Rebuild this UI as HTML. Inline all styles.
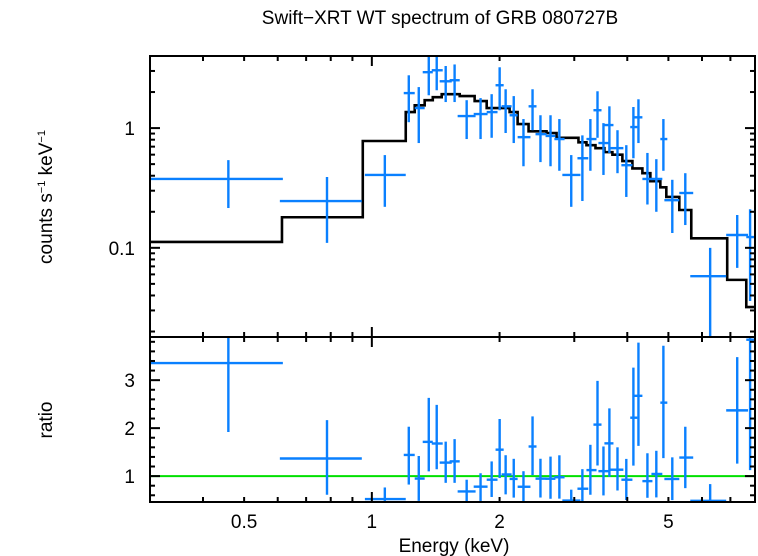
<!DOCTYPE html>
<html><head><meta charset="utf-8"><style>
html,body{margin:0;padding:0;background:#fff;}
svg{display:block;font-family:"Liberation Sans",sans-serif;}
</style></head><body>
<svg id="chart" width="758" height="556" viewBox="0 0 758 556" xmlns="http://www.w3.org/2000/svg">
<text x="440" y="24" font-size="19" text-anchor="middle">Swift−XRT WT spectrum of GRB 080727B</text>
<text transform="translate(52,197) rotate(-90)" font-size="19" text-anchor="middle">counts s<tspan font-size="11" dy="-7">−1</tspan><tspan dy="7"> keV</tspan><tspan font-size="11" dy="-7">−1</tspan></text>
<text transform="translate(52,420) rotate(-90)" font-size="19" text-anchor="middle">ratio</text>
<text x="454" y="552" font-size="19" text-anchor="middle">Energy (keV)</text>
<g id="top"></g>
<g id="bot"></g>
</svg>
<script>
const eLo=[0.300,0.607,0.963,1.189,1.262,1.318,1.384,1.445,1.525,1.593,1.738,1.865,1.957,2.022,2.112,2.206,2.341,2.431,2.567,2.693,2.812,3.052,3.205,3.329,3.42,3.533,3.630,3.874,4.065,4.156,4.342,4.560,4.786,4.892,5.305,5.630,6.842,7.63];
const eMid=[0.459,0.784,1.073,1.222,1.290,1.362,1.422,1.493,1.567,1.673,1.804,1.916,2.001,2.067,2.160,2.277,2.392,2.497,2.637,2.767,2.951,3.135,3.274,3.403,3.515,3.630,3.793,3.979,4.135,4.250,4.462,4.683,4.866,5.107,5.480,6.272,7.264,7.79];
const eHi=[0.617,0.947,1.202,1.262,1.332,1.392,1.469,1.543,1.611,1.756,1.874,1.978,2.045,2.135,2.206,2.365,2.444,2.581,2.708,2.846,3.102,3.237,3.385,3.478,3.63,3.711,3.916,4.113,4.226,4.342,4.585,4.838,4.971,5.305,5.721,6.842,7.705,8.0];
const rate=[0.376,0.246,0.406,1.96,1.47,2.93,3.04,2.46,2.51,1.26,1.31,1.36,2.28,1.52,1.28,0.84,1.52,0.89,0.86,0.81,0.406,0.56,0.81,1.41,0.75,1.06,0.68,0.49,1.02,1.23,0.376,0.376,0.81,0.25,0.287,0.058,0.128,0.123];
const rateLo=[0.215,0.11,0.22,1.12,0.75,1.88,2.07,1.65,1.65,0.81,0.81,0.83,1.41,0.91,0.75,0.48,0.96,0.52,0.48,0.44,0.22,0.246,0.44,0.83,0.406,0.62,0.42,0.266,0.56,0.75,0.23,0.2,0.44,0.133,0.155,0.005,0.068,0.036];
const rateHi=[0.54,0.39,0.595,2.76,2.2,4.5,4.5,3.3,3.4,1.71,1.78,1.92,3.22,2.11,1.85,1.19,2.11,1.28,1.28,1.19,0.595,0.87,1.19,2.03,1.1,1.52,0.96,0.72,1.5,1.74,0.62,0.55,1.19,0.37,0.42,0.1,0.188,0.21];
const modelEdges=[0.300,0.614,0.952,1.202,1.262,1.332,1.392,1.461,1.611,1.747,1.865,2.001,2.112,2.206,2.341,2.581,2.725,2.846,3.069,3.205,3.366,3.533,3.690,3.895,4.113,4.342,4.534,4.786,4.944,5.305,5.661,6.88,7.63,8.0];
const modelVals=[0.112,0.18,0.78,1.36,1.55,1.71,1.81,1.92,1.85,1.68,1.47,1.47,1.36,1.08,0.94,0.91,0.83,0.83,0.76,0.72,0.68,0.63,0.6,0.53,0.46,0.42,0.36,0.32,0.266,0.207,0.12,0.054,0.032];
const xTickLabels=["0.5","1","2","5"];
const xTickVals=[0.5,1,2,5];
const yTickLabelsTop=["0.1","1"];
const yTickValsTop=[0.1,1];
const yTickLabelsBot=["1","2","3"];
const yTickValsBot=[1,2,3];

const NS="http://www.w3.org/2000/svg";
const L=150,R=755,T1=56,B1=337,T2=337,B2=502;
const xMin=0.3,xMax=8.0;
const x=e=>L+(Math.log10(e)-Math.log10(xMin))/(Math.log10(xMax)-Math.log10(xMin))*(R-L);
const yTopMin=0.018,yTopMax=4.0;
const yT=v=>B1-(Math.log10(v)-Math.log10(yTopMin))/(Math.log10(yTopMax)-Math.log10(yTopMin))*(B1-T1);
const rMin=0.46,rMax=3.9;
const yB=r=>B2-(r-rMin)/(rMax-rMin)*(B2-T2);
const svg=document.getElementById('chart');
const gT=document.getElementById('top'),gB=document.getElementById('bot');
function mk(tag,attrs,parent){const el=document.createElementNS(NS,tag);for(const k in attrs)el.setAttribute(k,attrs[k]);(parent||svg).appendChild(el);return el;}

const defs=mk('defs',{});
const c1=mk('clipPath',{id:'c1'},defs);mk('rect',{x:L,y:T1,width:R-L,height:B1-T1},c1);
const c2=mk('clipPath',{id:'c2'},defs);mk('rect',{x:L,y:T2,width:R-L,height:B2-T2},c2);
const dT=mk('g',{'clip-path':'url(#c1)'},gT);
const dB=mk('g',{'clip-path':'url(#c2)'},gB);

function modelAt(e){for(let i=0;i<modelVals.length;i++){if(e>=modelEdges[i]&&e<modelEdges[i+1])return modelVals[i];}return modelVals[modelVals.length-1];}

let d='';
for(let i=0;i<modelVals.length;i++){
  const yy=yT(modelVals[i]);
  d+=(i===0?'M':'L')+x(modelEdges[i])+','+yy+'L'+x(modelEdges[i+1])+','+yy;
}
const mp=mk('path',{d:d,fill:'none',stroke:'#000','stroke-width':2.6},dT);



const rl=mk('line',{x1:L,x2:R,y1:yB(1),y2:yB(1),stroke:'#00e000','stroke-width':2},dB);



const BLUE='#0a80ff';
for(let i=0;i<rate.length;i++){
  const g=mk('g',{stroke:BLUE,'stroke-width':2.4},dT);
  
  
  const cx=x(eMid[i]),cy=yT(rate[i]);
  mk('line',{x1:x(eLo[i]),x2:x(eHi[i]),y1:cy,y2:cy},g);
  mk('line',{x1:cx,x2:cx,y1:yT(rateHi[i]),y2:yT(rateLo[i])},g);
  const m=modelAt(eMid[i]);
  const g2=mk('g',{stroke:BLUE,'stroke-width':2.4},dB);
  
  
  const ry=yB(rate[i]/m);
  mk('line',{x1:x(eLo[i]),x2:x(eHi[i]),y1:ry,y2:ry},g2);
  mk('line',{x1:cx,x2:cx,y1:yB(rateHi[i]/m),y2:yB(Math.max(rateLo[i]/m,0.01))},g2);
}

const f1=mk('rect',{x:L,y:T1,width:R-L,height:B1-T1,fill:'none',stroke:'#000','stroke-width':2},gT);


const f2=mk('rect',{x:L,y:T2,width:R-L,height:B2-T2,fill:'none',stroke:'#000','stroke-width':2},gB);



const tk=mk('g',{stroke:'#000','stroke-width':2});


const xt=[0.3,0.4,0.5,0.6,0.7,0.8,0.9,1,2,3,4,5,6,7,8];
xt.forEach(e=>{
  const px=x(e),len=(e===1)?10:5;
  [[T1,1],[B1,-1],[T2,1],[B2,-1]].forEach(([y0,s])=>mk('line',{x1:px,x2:px,y1:y0,y2:y0+s*len},tk));
});
const yt=[0.02,0.03,0.04,0.05,0.06,0.07,0.08,0.09,0.1,0.2,0.3,0.4,0.5,0.6,0.7,0.8,0.9,1,2,3,4];
yt.forEach(v=>{const py=yT(v),len=(v===0.1||v===1)?10:5;
  mk('line',{x1:L,x2:L+len,y1:py,y2:py},tk);mk('line',{x1:R,x2:R-len,y1:py,y2:py},tk);});
for(let r=0.6;r<3.85;r+=0.2){const rr=Math.round(r*10)/10;const py=yB(rr);const len=(Math.abs(rr-Math.round(rr))<0.01)?10:5;
  mk('line',{x1:L,x2:L+len,y1:py,y2:py},tk);mk('line',{x1:R,x2:R-len,y1:py,y2:py},tk);}

xTickVals.forEach((v,i)=>{const t=mk('text',{x:x(v),y:528,'font-size':19,'text-anchor':'middle'});t.textContent=xTickLabels[i];
  
  });
yTickValsTop.forEach((v,i)=>{const t=mk('text',{x:135,y:yT(v)+7,'font-size':19,'text-anchor':'end'});t.textContent=yTickLabelsTop[i];
  
  });
yTickValsBot.forEach((v,i)=>{const t=mk('text',{x:135,y:yB(v)+7,'font-size':19,'text-anchor':'end'});t.textContent=yTickLabelsBot[i];
  
  });
</script>
</body></html>
